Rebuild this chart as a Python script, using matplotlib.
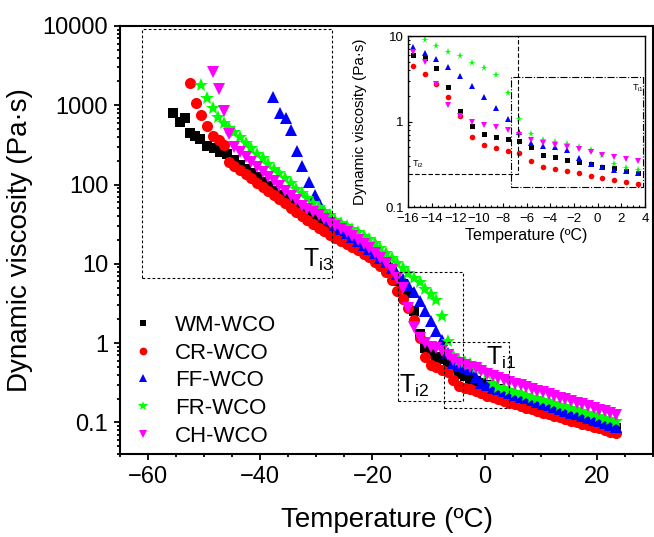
import numpy as np
import matplotlib
matplotlib.use('Agg')
import matplotlib.pyplot as plt
from matplotlib import ticker

plt.rcParams['font.family'] = ['Liberation Sans', 'DejaVu Sans']
plt.rcParams['mathtext.fontset'] = 'custom'
plt.rcParams['mathtext.rm'] = 'Liberation Sans'
plt.rcParams['mathtext.it'] = 'Liberation Sans:italic'

# shared temperature steps (ºC)
temp_grid = [-44.6, -43.6, -42.6, -41.6, -40.6, -39.6, -38.6, -37.6, -36.6, -35.6,
             -34.6, -33.6, -32.6, -31.6, -30.6, -29.6, -28.6, -27.6, -26.6, -25.6,
             -24.6, -23.6, -22.6, -21.6, -20.6, -19.6, -18.6, -17.6, -16.6, -15.6,
             -14.6, -13.6, -12.6, -11.6, -10.6, -9.6, -8.6, -7.6, -6.6, -5.6,
             -4.6, -3.6, -2.6, -1.6, -0.6, 0.4, 1.4, 2.4, 3.4, 4.4,
             5.4, 6.4, 7.4, 8.4, 9.4, 10.4, 11.4, 12.4, 13.4, 14.4,
             15.4, 16.4, 17.4, 18.4, 19.4, 20.4, 21.4, 22.4, 23.4]

# WM-WCO
wm_head_t = [-55.6, -54.3, -53.4, -52.6, -51.6, -50.7, -49.5, -48.3, -47.1, -45.9]
wm_head_eta = [795, 624, 689, 446, 404, 374, 308, 289, 261, 240]
wm_eta = [204, 178, 158, 138, 123, 107, 95, 83, 74, 65,
          58, 50, 45, 41, 37, 34, 31, 28.2, 25.7, 24,
          21.9, 20, 18.2, 16.6, 14.8, 13.2, 11.5, 9.8, 7.9,
          6.0, 5.5, 4.27, 2.54, 1.31, 0.875, 0.724, 0.668, 0.628, 0.584,
          0.497, 0.408, 0.380, 0.351, 0.335, 0.318, 0.293, 0.288, 0.266, 0.249,
          0.236, 0.223, 0.211, 0.200, 0.190, 0.180, 0.171, 0.162, 0.153, 0.146,
          0.138, 0.131, 0.124, 0.118, 0.112, 0.106, 0.100, 0.095, 0.090, 0.086]

# CR-WCO
cr_head_t = [-52.6, -51.4, -50.5, -49.5, -48.4, -47.4, -46.5, -45.6]
cr_head_eta = [1930, 1080, 760, 540, 412, 360, 317, 190]
cr_eta = [170, 151, 135, 120, 105, 93, 83, 74, 66, 59,
          50, 45, 40, 35.5, 31.6, 28.2, 25.7, 23.4, 21.4, 19.5,
          17.8, 16.2, 14.8, 13.5, 12.3, 10.7, 9.3, 7.9, 6.3,
          4.51, 3.63, 2.75, 1.96, 1.16, 0.662, 0.525, 0.493, 0.458, 0.427,
          0.341, 0.290, 0.275, 0.261, 0.247, 0.232, 0.218, 0.207, 0.198, 0.187,
          0.178, 0.169, 0.161, 0.153, 0.146, 0.139, 0.133, 0.127, 0.121, 0.116,
          0.110, 0.105, 0.101, 0.096, 0.092, 0.088, 0.084, 0.080, 0.076, 0.073]

# FF-WCO
ff_head_t = [-37.7, -36.4, -35.5, -34.5, -33.4, -32.6, -31.4, -30.2, -29.3]
ff_head_eta = [1290, 795, 690, 490, 268, 170, 107, 74, 55]
ff_eta = [None, None, None, None, None, None, None, None, None, None,
          None, None, None, None, None, None, 46, 36, 31, 27.5,
          24.5, 22, 19.5, 17.4, 15.5, 13.8, 12, 10.5, 8.9,
          7.5, 6.39, 5.44, 4.39, 3.41, 2.58, 1.91, 1.43, 1.08, 0.75,
          0.563, 0.520, 0.501, 0.467, 0.373, 0.318, 0.293, 0.273, 0.261, 0.247,
          0.235, 0.223, 0.212, 0.201, 0.191, 0.181, 0.172, 0.164, 0.155, 0.148,
          0.140, 0.133, 0.126, 0.120, 0.114, 0.108, 0.103, 0.098, 0.093, 0.088]

# FR-WCO
fr_head_t = [-50.5, -49.5, -48.4, -47.6, -46.4, -45.5]
fr_head_eta = [1800, 1250, 920, 720, 595, 515]
fr_eta = [457, 398, 339, 288, 245, 214, 182, 158, 138, 120,
          105, 89, 78, 68, 59, 52, 46, 41, 36, 33,
          30, 27.5, 25, 22.4, 20.4, 18.2, 15.8, 13.8, 11.7,
          10.4, 8.98, 7.71, 6.56, 5.89, 4.88, 4.20, 3.51, 2.18, 1.07,
          0.711, 0.605, 0.579, 0.544, 0.497, 0.467, 0.41, 0.318, 0.283, 0.268,
          0.256, 0.244, 0.233, 0.222, 0.212, 0.202, 0.193, 0.184, 0.175, 0.167,
          0.160, 0.152, 0.146, 0.139, 0.132, 0.126, 0.121, 0.115, 0.110, 0.105]

# CH-WCO
ch_head_t = [-48.4, -47.4, -46.4, -45.6]
ch_head_eta = [2660, 1590, 835, 430]
ch_eta = [302, 257, 224, 191, 166, 145, 126, 110, 95, 83,
          72, 63, 54, 49, 45, 41, 37, 33, 30, 27.5,
          25, 22.4, 20, 17.8, 15.8, 13.8, 12, 10.2, 8.3,
          6.56, 5.01, 2.78, 1.58, 1.15, 0.99, 0.906, 0.859, 0.80, 0.699,
          0.611, 0.558, 0.525, 0.497, 0.48, 0.439, 0.408, 0.384, 0.363, 0.341,
          0.324, 0.308, 0.293, 0.279, 0.265, 0.252, 0.240, 0.228, 0.217, 0.206,
          0.196, 0.187, 0.177, 0.169, 0.161, 0.153, 0.145, 0.138, 0.132, 0.125]

labels = ['WM-WCO', 'CR-WCO', 'FF-WCO', 'FR-WCO', 'CH-WCO']

# transition regions marked on the plots: (T min, T max, eta min, eta max)
box_ti3 = [-61.1, -27.3, 6.7, 9200]
box_ti2 = [-15.5, -3.9, 0.184, 7.98]
box_ti1 = [-7.3, 4.3, 0.15, 1.02]
inset_box_ti2 = [-16, -6.7, 0.243, 10]
inset_box_ti1 = [-7.3, 3.85, 0.171, 3.3]


def join(head_t, head_eta, eta):
    t = np.array(list(head_t) + list(temp_grid), dtype=float)
    v = np.array(list(head_eta) + list(eta), dtype=float)
    return t, v


data = [join(wm_head_t, wm_head_eta, wm_eta),
        join(cr_head_t, cr_head_eta, cr_eta),
        join(ff_head_t, ff_head_eta, ff_eta),
        join(fr_head_t, fr_head_eta, fr_eta),
        join(ch_head_t, ch_head_eta, ch_eta)]

colors = ['#000000', '#ff0000', '#0000ff', '#00ff00', '#ff00ff']
markers = ['s', 'o', '^', '*', 'v']
sizes = [7, 8, 8.5, 10, 8.5]
small = [3.6, 4.0, 4.4, 5.5, 4.4]


def draw_box(ax, box, **kw):
    x0, x1, y0, y1 = box
    ax.plot([x0, x1, x1, x0, x0], [y0, y0, y1, y1, y0], color='black', **kw)


fig = plt.figure(figsize=(6.54, 5.37), dpi=100)
ax = fig.add_axes([0.1835, 0.1546, 0.8150, 0.7970])

for (t, v), lab, c, m, s in zip(data, labels, colors, markers, sizes):
    ax.plot(t, v, linestyle='none', marker=m, markersize=s, color=c,
            markeredgewidth=0, label=lab)

ax.set_yscale('log')
ax.set_xlim(-65, 30)
ax.set_ylim(0.04, 10000)
ax.xaxis.set_major_locator(ticker.MultipleLocator(20))
ax.xaxis.set_minor_locator(ticker.MultipleLocator(5))
ax.yaxis.set_major_locator(ticker.LogLocator(base=10, numticks=10))
ax.yaxis.set_minor_locator(ticker.LogLocator(base=10, subs=np.arange(2, 10), numticks=20))
ax.yaxis.set_minor_formatter(ticker.NullFormatter())
ax.yaxis.set_major_formatter(ticker.FuncFormatter(lambda v, p: f'{v:g}'))
ax.tick_params(which='both', direction='out', top=False, right=False,
               labelsize=17, width=1.3)
ax.tick_params(which='major', length=4.5, pad=4)
ax.tick_params(which='minor', length=2.3)
for sp in ax.spines.values():
    sp.set_linewidth(1.5)
ax.set_xlabel('Temperature (ºC)', fontsize=20)
ax.set_ylabel('Dynamic viscosity (Pa·s)', fontsize=20)
ax.xaxis.set_label_coords(0.5, -0.125)
ax.yaxis.set_label_coords(-0.163, 0.5)

dash = (0, (2.5, 2.0))
for b in (box_ti3, box_ti2, box_ti1):
    draw_box(ax, b, linewidth=0.8, linestyle=dash)
ax.text(-32.3, 9.2, r'T$_{\mathrm{i3}}$', fontsize=18)
ax.text(-15.2, 0.239, r'T$_{\mathrm{i2}}$', fontsize=18)
ax.text(0.18, 0.537, r'T$_{\mathrm{i1}}$', fontsize=18)

ax.legend(loc='upper left', bbox_to_anchor=(0.0225, 0.325), frameon=False,
          fontsize=16, markerscale=0.7, handlelength=1.0, handletextpad=0.95,
          labelspacing=0.3, borderpad=0, borderaxespad=0)

# inset: zoom on the -16..4 ºC range
ins = fig.add_axes([0.6239, 0.6145, 0.3624, 0.3184])
ins.set_facecolor('white')
for (t, v), c, m, s in zip(data, colors, markers, small):
    ins.plot(t, v, linestyle='none', marker=m, markersize=s, color=c,
             markeredgewidth=0)
ins.set_yscale('log')
ins.set_xlim(-16, 4)
ins.set_ylim(0.1, 10)
ins.xaxis.set_major_locator(ticker.MultipleLocator(2))
ins.xaxis.set_minor_locator(ticker.MultipleLocator(0.5))
ins.yaxis.set_major_locator(ticker.LogLocator(base=10, numticks=5))
ins.yaxis.set_minor_locator(ticker.LogLocator(base=10, subs=np.arange(2, 10), numticks=10))
ins.yaxis.set_minor_formatter(ticker.NullFormatter())
ins.yaxis.set_major_formatter(ticker.FuncFormatter(lambda v, p: f'{v:g}'))
ins.tick_params(which='both', direction='in', top=False, right=False,
                labelsize=9.5, width=0.8)
ins.tick_params(axis='x', which='major', length=3, pad=4.5)
ins.tick_params(axis='y', which='major', length=3, pad=3)
ins.tick_params(which='minor', length=1.6)
for sp in ins.spines.values():
    sp.set_linewidth(1.0)
ins.set_xlabel('Temperature (ºC)', fontsize=11.5)
ins.set_ylabel('Dynamic viscosity (Pa·s)', fontsize=11)
ins.xaxis.set_label_coords(0.5, -0.12)
ins.yaxis.set_label_coords(-0.175, 0.5)
draw_box(ins, inset_box_ti2, linewidth=0.8, linestyle=(0, (4, 2)))
draw_box(ins, inset_box_ti1, linewidth=0.8, linestyle='-.')
ins.text(-15.66, 0.30, r'T$_{\mathrm{i2}}$', fontsize=6.5)
ins.text(2.9, 2.33, r'T$_{\mathrm{i1}}$', fontsize=6.5)

fig.savefig('out.png', dpi=100)
